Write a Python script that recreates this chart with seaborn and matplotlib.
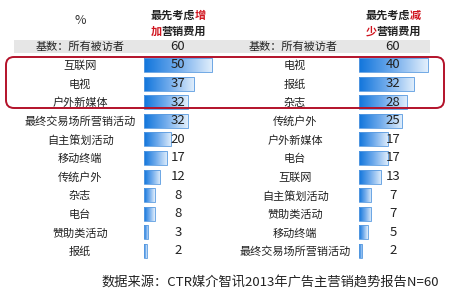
import numpy as np
import matplotlib
matplotlib.use("Agg")
import matplotlib.pyplot as plt
from matplotlib.patches import FancyBboxPatch, Rectangle
from matplotlib.colors import LinearSegmentedColormap
import seaborn as sns

left_labels = ['互联网', '电视', '户外新媒体', '最终交易场所营销活动', '自主策划活动',
               '移动终端', '传统户外', '杂志', '电台', '赞助类活动', '报纸']
left_vals = [50, 37, 32, 32, 20, 17, 12, 8, 8, 3, 2]
right_labels = ['电视', '报纸', '杂志', '传统户外', '户外新媒体', '电台', '互联网',
                '自主策划活动', '赞助类活动', '移动终端', '最终交易场所营销活动']
right_vals = [40, 32, 28, 25, 17, 17, 13, 7, 7, 5, 2]
base_label = '基数：所有被访者'
base_n = 60
source = '数据来源：CTR媒介智讯2013年广告主营销趋势报告N=60'

sns.set_style('white')
plt.rcParams['font.family'] = ['Noto Sans CJK SC', 'DejaVu Sans']

W, H = 450, 297
fig = plt.figure(figsize=(W / 100, H / 100), dpi=100)
px = fig.dpi_scale_trans  # inches


def P(x, y):
    # pixel (from top-left) -> inches
    return x / 100, (H - y) / 100


grad = LinearSegmentedColormap.from_list('g', ['#1276dc', '#72acec', '#e2effc'])

# grey base row
fig.patches.append(Rectangle(P(14, 53), 416 / 100, 13 / 100, transform=px,
                             facecolor='#e6e6e6', edgecolor='none', zorder=0))

ax_bot = 1 - 260.3 / H
ax_h = (260.3 - 55.7) / H
panels = [
    (144, 58.8, left_labels, left_vals),
    (359, 46.5, right_labels, right_vals),
]
for x0, xmax, labels, vals in panels:
    ax = fig.add_axes([x0 / W, ax_bot, 80 / W, ax_h])
    sns.barplot(x=vals, y=labels, ax=ax, orient='h', width=0.75,
                color='#1577de', edgecolor='#5a9be0', linewidth=0.6)
    for p in ax.patches:
        bx, by, bw, bh = p.get_x(), p.get_y(), p.get_width(), p.get_height()
        im = ax.imshow(np.linspace(0, 1, 64).reshape(1, -1), cmap=grad, aspect='auto',
                       extent=[bx, bx + bw, by + bh, by], zorder=p.get_zorder() - 0.1)
        im.set_clip_path(p)
        p.set_facecolor('none')
    ax.set_xlim(0, xmax)
    ax.set_ylim(len(vals) - 0.5, -0.5)
    for i, v in enumerate(vals):
        ax.text(0.425, i, str(v), transform=ax.get_yaxis_transform(),
                ha='center', va='center', fontsize=9.5, color='#222222')
    ax.set_xticks([])
    ax.set_xlabel('')
    ax.set_ylabel('')
    ax.tick_params(axis='y', length=0, pad=46, labelsize=8, labelcolor='#222222')
    for t in ax.get_yticklabels():
        t.set_horizontalalignment('center')
    sns.despine(ax=ax, left=True, bottom=True)
    ax.patch.set_alpha(0)

# header row texts
for lx, vx in [(80, 178), (293, 393)]:
    fig.text(*P(lx, 46.5), base_label, transform=px, ha='center', va='center',
             fontsize=8, color='#222222')
    fig.text(*P(vx, 46.5), str(base_n), transform=px, ha='center', va='center',
             fontsize=9.5, color='#222222')

fig.text(*P(80, 20), '%', transform=px, ha='center', va='center', fontsize=9, color='#333333')

# two-colour column titles
cw = 11.1
for cx, red1, red2 in [(178, '增', '加'), (393, '减', '少')]:
    x0 = cx - 2.5 * cw
    fig.text(*P(x0, 15), '最先考虑', transform=px, ha='left', va='center',
             fontsize=8, weight='bold', color='#222222')
    fig.text(*P(x0 + 4 * cw, 15), red1, transform=px, ha='left', va='center',
             fontsize=8, weight='bold', color='#d0141e')
    fig.text(*P(x0, 31), red2, transform=px, ha='left', va='center',
             fontsize=8, weight='bold', color='#d0141e')
    fig.text(*P(x0 + cw, 31), '营销费用', transform=px, ha='left', va='center',
             fontsize=8, weight='bold', color='#222222')

# red highlight box
fig.patches.append(FancyBboxPatch(P(6, 108), 438 / 100, 51 / 100, transform=px,
                                  boxstyle='round,pad=0,rounding_size=0.08',
                                  facecolor='none', edgecolor='#b3122a', linewidth=1.4,
                                  zorder=5))

fig.text(*P(270, 283), source, transform=px, ha='center', va='center',
         fontsize=9.5, color='#222222')

fig.savefig('out.png', dpi=100)
